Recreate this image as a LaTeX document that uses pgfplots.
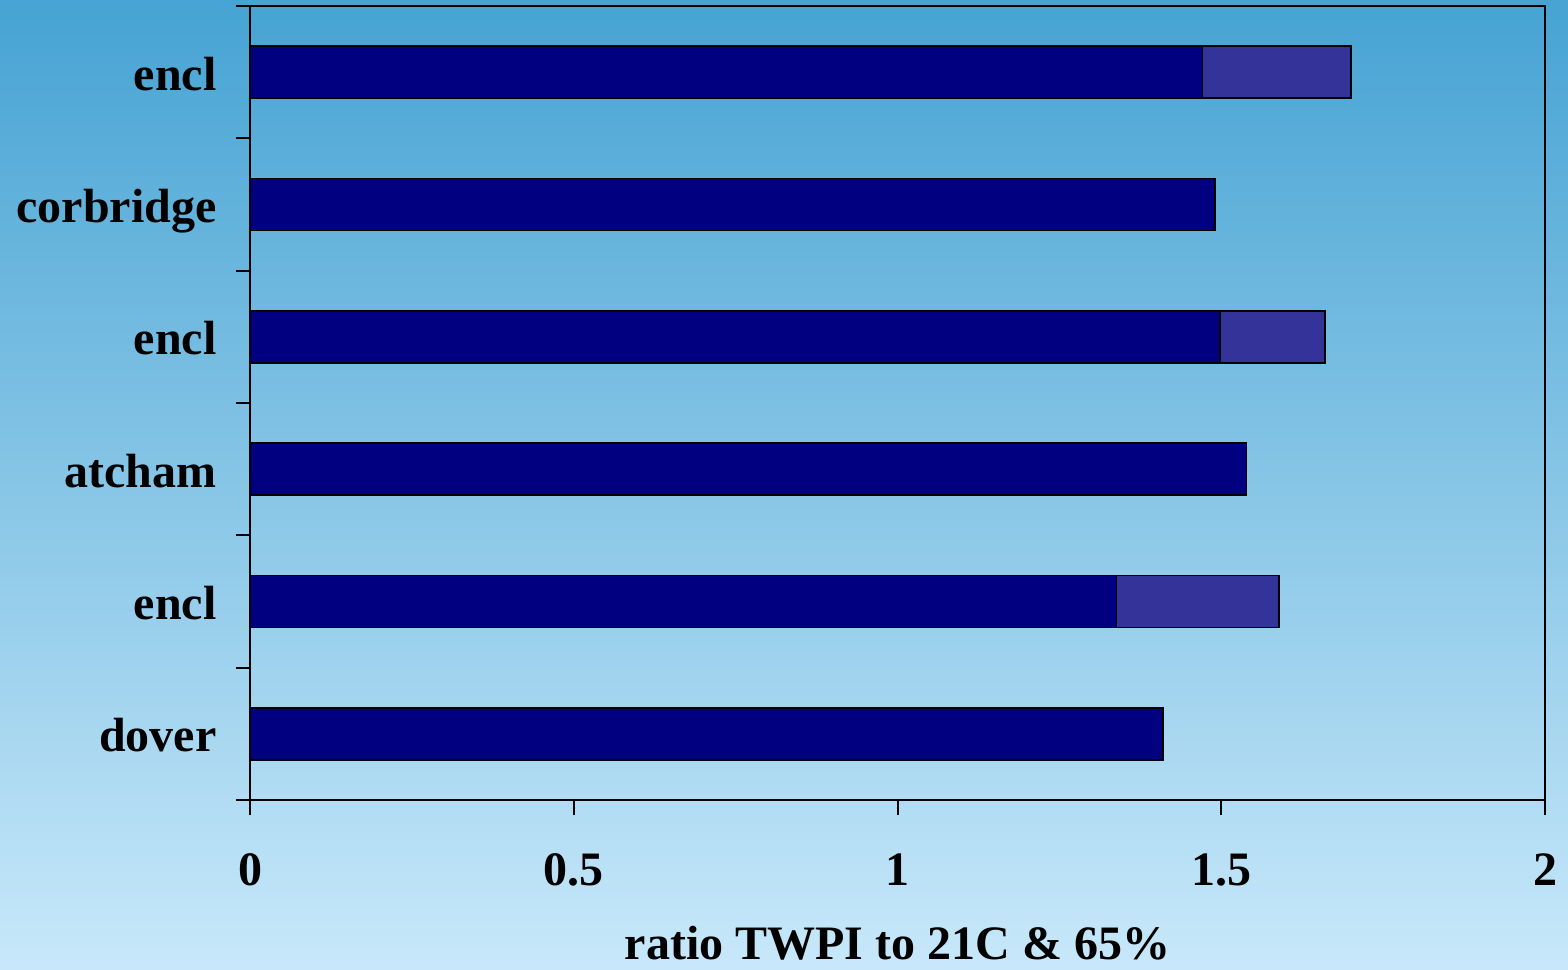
\documentclass[border=0pt]{standalone}
\usepackage{fontspec}
\setmainfont{Liberation Serif}
\usepackage{pgfplots}
\pgfplotsset{compat=1.18}
\definecolor{bgtop}{RGB}{70,163,211}
\definecolor{bgbot}{RGB}{200,232,250}
\definecolor{barA}{RGB}{0,0,128}
\definecolor{barB}{RGB}{51,51,153}
\newcommand{\lbl}{\fontsize{24bp}{28bp}\selectfont\bfseries}
\begin{document}
\begin{tikzpicture}
\shade[top color=bgtop, bottom color=bgbot] (0,0) rectangle (784bp,485bp);
\begin{axis}[
  at={(125bp,85bp)}, anchor=south west,
  scale only axis, width=647.5bp, height=397bp,
  xmin=0, xmax=2, ymin=-0.5, ymax=5.5,
  xtick={0,0.5,1,1.5,2},
  ytick={0,1,2,3,4,5},
  yticklabels={dover,encl,atcham,encl,corbridge,encl},
  minor ytick={-0.5,0.5,1.5,2.5,3.5,4.5,5.5},
  tick align=outside,
  xtick pos=left, ytick pos=left,
  major tick length=7.5bp, minor tick length=7bp,
  major y tick style={draw=none},
  every tick/.style={black, line width=1bp},
  axis line style={line width=1bp},
  /pgf/number format/assume math mode=true,
  ticklabel style={font=\lbl},
  xticklabel style={anchor=base, inner sep=0pt, yshift=-35bp},
  yticklabel style={anchor=base east, inner sep=0pt, xshift=-9bp, yshift=-9bp},
  xlabel={ratio TWPI to 21C \& 65\%},
  xlabel style={font=\lbl, at={(axis description cs:0.5,0)}, anchor=base, inner sep=0pt, yshift=-79.5bp},
  xbar, bar width=26bp, bar shift=0pt,
]
\addplot[fill=barB, draw=black, line width=0.8bp] coordinates {
  (1.410,0) (1.589,1) (1.539,2) (1.660,3) (1.490,4) (1.700,5)};
\addplot[fill=barA, draw=black, line width=0.8bp] coordinates {
  (1.410,0) (1.338,1) (1.539,2) (1.498,3) (1.490,4) (1.471,5)};
\end{axis}
\pgfresetboundingbox
\path[use as bounding box] (0,0) rectangle (784bp,485bp);
\end{tikzpicture}
\end{document}
